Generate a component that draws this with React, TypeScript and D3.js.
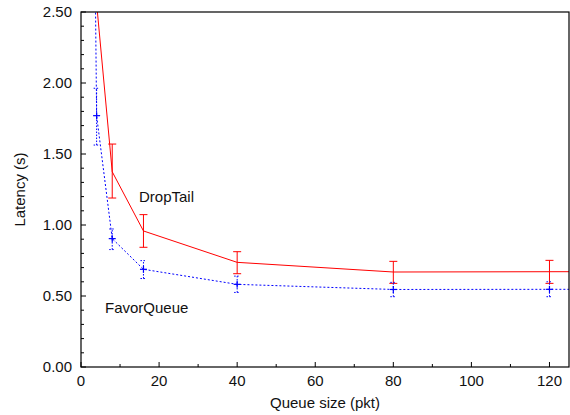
import React from "react";
import * as d3 from "d3";

// Queue sizes (pkt)
const dropTailX = [2, 4, 8, 16, 40, 80, 120, 160];
const dropTailY = [9.0, 2.56, 1.375, 0.958, 0.737, 0.669, 0.671, 0.672];
const dropTailLo = [null, null, 1.19, 0.843, 0.657, 0.589, 0.589, null];
const dropTailHi = [null, null, 1.57, 1.073, 0.812, 0.744, 0.751, null];

const favorX = [2, 4, 8, 16, 40, 80, 120, 160];
const favorY = [7.2, 1.77, 0.904, 0.688, 0.582, 0.546, 0.547, 0.547];
const favorLo = [null, 1.563, 0.827, 0.623, 0.525, 0.495, 0.495, null];
const favorHi = [null, 1.963, 0.972, 0.749, 0.64, 0.596, 0.6, null];

const xMajor = [0, 20, 40, 60, 80, 100, 120];
const yMajor = [0, 0.5, 1.0, 1.5, 2.0, 2.5];

const W = 570, H = 415;
const L = 81, R = 569, T = 12, B = 367;
const FONT = "'Liberation Sans', Arial, Helvetica, sans-serif";

export default function App() {
  const x = d3.scaleLinear().domain([0, 125]).range([L, R]);
  const y = d3.scaleLinear().domain([0, 2.5]).range([B, T]);
  const line = d3.line<[number, number]>().x(d => x(d[0])).y(d => y(d[1]));
  const red = dropTailX.map((v, i) => [v, dropTailY[i]] as [number, number]);
  const blue = favorX.map((v, i) => [v, favorY[i]] as [number, number]);
  const xMinor = d3.range(0, 126, 10).filter(v => v % 20 !== 0);
  const yMinor = d3.range(0, 25).map(v => v / 10).filter(v => Math.round(v * 10) % 5 !== 0);

  return (
    <svg width={W} height={H} style={{ position: "absolute", left: 0, top: 0, background: "#fff" }} fontFamily={FONT}>
      <defs>
        <clipPath id="plot">
          <rect x={L} y={T} width={R - L} height={B - T} />
        </clipPath>
      </defs>
      <g clipPath="url(#plot)">
        <path d={line(red) || ""} fill="none" stroke="#ff0000" strokeWidth={1} />
        {dropTailX.map((v, i) => dropTailLo[i] == null ? null : (
          <g key={"r" + i} stroke="#ff0000" strokeWidth={1}>
            <line x1={x(v)} x2={x(v)} y1={y(dropTailLo[i] as number)} y2={y(dropTailHi[i] as number)} />
            <line x1={x(v) - 4} x2={x(v) + 4} y1={y(dropTailLo[i] as number)} y2={y(dropTailLo[i] as number)} />
            <line x1={x(v) - 4} x2={x(v) + 4} y1={y(dropTailHi[i] as number)} y2={y(dropTailHi[i] as number)} />
          </g>
        ))}
        <path d={line(blue) || ""} fill="none" stroke="#0000ff" strokeWidth={1} strokeDasharray="2,2" />
        {favorX.map((v, i) => favorLo[i] == null ? null : (
          <g key={"b" + i} stroke="#0000ff" strokeWidth={1} strokeDasharray="1.5,1.5">
            <line x1={x(v)} x2={x(v)} y1={y(favorLo[i] as number)} y2={y(favorHi[i] as number)} />
            <line x1={x(v) - 3} x2={x(v) + 3} y1={y(favorLo[i] as number)} y2={y(favorLo[i] as number)} />
            <line x1={x(v) - 3} x2={x(v) + 3} y1={y(favorHi[i] as number)} y2={y(favorHi[i] as number)} />
          </g>
        ))}
        {favorX.map((v, i) => favorLo[i] == null ? null : (
          <g key={"m" + i} stroke="#0000ff" strokeWidth={1.2}>
            <line x1={x(v) - 3.5} x2={x(v) + 3.5} y1={y(favorY[i])} y2={y(favorY[i])} />
            <line x1={x(v)} x2={x(v)} y1={y(favorY[i]) - 3.5} y2={y(favorY[i]) + 3.5} />
          </g>
        ))}
      </g>
      {/* frame */}
      <rect x={L} y={T} width={R - L} height={B - T} fill="none" stroke="#000" strokeWidth={1.2} />
      {/* ticks */}
      <g stroke="#000" strokeWidth={1}>
        {xMajor.map(v => <line key={"xM" + v} x1={x(v)} x2={x(v)} y1={B} y2={B - 5} />)}
        {xMinor.map(v => <line key={"xm" + v} x1={x(v)} x2={x(v)} y1={B} y2={B - 3} />)}
        {yMajor.map(v => <line key={"yM" + v} x1={L} x2={L + 5} y1={y(v)} y2={y(v)} />)}
        {yMinor.map(v => <line key={"ym" + v} x1={L} x2={L + 3} y1={y(v)} y2={y(v)} />)}
      </g>
      <g fontSize={15} fill="#111">
        {xMajor.map(v => (
          <text key={"xl" + v} x={x(v)} y={B + 19} textAnchor="middle">{d3.format("d")(v)}</text>
        ))}
        {yMajor.map(v => (
          <text key={"yl" + v} x={L - 9} y={y(v) + 5} textAnchor="end">{d3.format(".2f")(v)}</text>
        ))}
        <text x={(L + R) / 2} y={408} textAnchor="middle">Queue size (pkt)</text>
        <text transform={`translate(25,${(T + B) / 2}) rotate(-90)`} textAnchor="middle">Latency (s)</text>
        <text x={139} y={202}>DropTail</text>
        <text x={105} y={313}>FavorQueue</text>
      </g>
    </svg>
  );
}
